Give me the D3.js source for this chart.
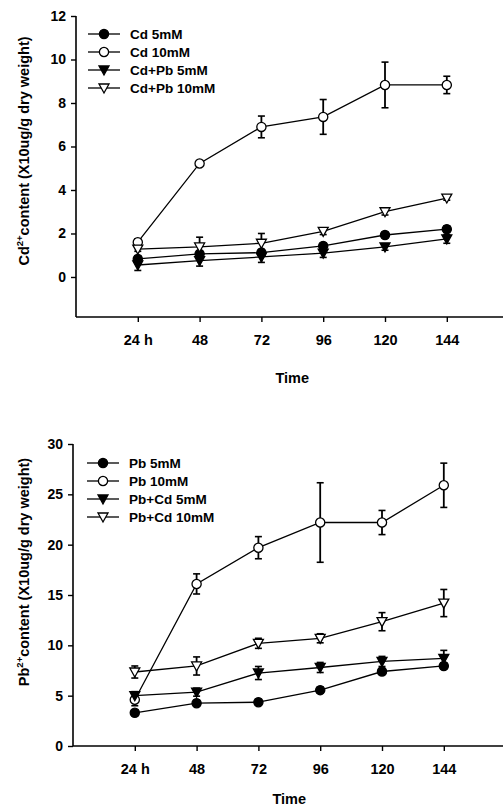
<!DOCTYPE html>
<html>
<head>
    <style>
        body { margin: 0; background: #fff; }
        svg text { font-family: "Liberation Sans", Arial, sans-serif; font-weight: bold; fill: #000; }
    </style>
    <script src="https://d3js.org/d3.v7.min.js"></script>
</head>
<body>
    <svg width="503" height="810"></svg>
    <script>

        // time points (h) and tick labels
        var times = [24, 48, 72, 96, 120, 144];
        var timeLabels = ["24 h", "48", "72", "96", "120", "144"];

        // top panel: Cd content
        var cdNames = ["Cd 5mM", "Cd 10mM", "Cd+Pb 5mM", "Cd+Pb 10mM"];
        var cd5 = [0.83, 1.06, 1.12, 1.43, 1.93, 2.2];
        var cd5Err = [0.15, 0.15, 0.15, 0.12, 0.12, 0.15];
        var cd10 = [1.6, 5.22, 6.9, 7.36, 8.83, 8.83];
        var cd10Err = [0.15, 0.1, 0.5, 0.8, 1.05, 0.4];
        var cdPb5 = [0.55, 0.75, 0.92, 1.1, 1.38, 1.75];
        var cdPb5Err = [0.25, 0.25, 0.25, 0.2, 0.15, 0.2];
        var cdPb10 = [1.28, 1.38, 1.55, 2.1, 3.0, 3.63];
        var cdPb10Err = [0.1, 0.45, 0.45, 0.15, 0.15, 0.1];
        var cdTicks = [0, 2, 4, 6, 8, 10, 12];

        // bottom panel: Pb content
        var pbNames = ["Pb 5mM", "Pb 10mM", "Pb+Cd 5mM", "Pb+Cd 10mM"];
        var pb5 = [3.3, 4.25, 4.35, 5.55, 7.4, 7.95];
        var pb5Err = [0.3, 0.3, 0.3, 0.3, 0.3, 0.3];
        var pb10 = [4.6, 16.1, 19.7, 22.2, 22.2, 25.9];
        var pb10Err = [0.6, 1.0, 1.1, 3.95, 1.2, 2.2];
        var pbCd5 = [5.0, 5.35, 7.25, 7.8, 8.4, 8.7];
        var pbCd5Err = [0.4, 0.4, 0.65, 0.5, 0.5, 0.8];
        var pbCd10 = [7.35, 7.95, 10.2, 10.7, 12.35, 14.2];
        var pbCd10Err = [0.6, 0.9, 0.5, 0.45, 0.9, 1.35];
        var pbTicks = [0, 5, 10, 15, 20, 25, 30];

        var styles = [
            { fill: "#000", shape: "circle" },
            { fill: "#fff", shape: "circle" },
            { fill: "#000", shape: "tri" },
            { fill: "#fff", shape: "tri" }
        ];

        var svg = d3.select("svg");

        function marker(sel, st) {
            if (st.shape == "circle") {
                sel.append("circle").attr("r", 4.6)
                   .attr("fill", st.fill).attr("stroke", "#000").attr("stroke-width", 1.3);
            } else {
                sel.append("path").attr("d", "M-5,-4L5,-4L0,5Z")
                   .attr("fill", st.fill).attr("stroke", "#000").attr("stroke-width", 1.3);
            }
        }

        function panel(p) {
            var x = d3.scaleLinear().domain([0, 168]).range([p.left, p.left + 168 * 61.8 / 24]);
            var y = d3.scaleLinear().domain(p.yDomain).range([p.bottom, p.top]);
            var g = svg.append("g");

            // axes
            g.append("g").attr("transform", "translate(" + p.left + ",0)")
             .call(d3.axisLeft(y).tickValues(p.ticks).tickSize(5).tickPadding(5))
             .call(function(a) {
                 a.select(".domain").attr("stroke-width", 1.6).attr("d", "M0," + p.bottom + "V" + y(p.ticks[p.ticks.length - 1]));
                 a.selectAll(".tick line").attr("stroke-width", 1.4);
                 a.selectAll("text").attr("font-size", 14).style("font-family", "Liberation Sans, Arial").style("font-weight", "bold");
             });
            g.append("g").attr("transform", "translate(0," + p.bottom + ")")
             .call(d3.axisBottom(x).tickValues(times).tickFormat(function(d, i) { return timeLabels[i]; })
                   .tickSize(5).tickPadding(13))
             .call(function(a) {
                 a.select(".domain").attr("stroke-width", 1.6).attr("d", "M" + p.left + ",0H503");
                 a.selectAll(".tick line").attr("stroke-width", 1.4);
                 a.selectAll("text").attr("font-size", 14.5).style("font-family", "Liberation Sans, Arial").style("font-weight", "bold");
             });

            g.append("text").attr("x", x(84)).attr("y", p.timeY)
             .attr("text-anchor", "middle").attr("font-size", 14.5).text("Time");

            var yl = g.append("text")
                .attr("transform", "translate(29," + p.labelY + ") rotate(-90)")
                .attr("text-anchor", "middle").attr("font-size", 14.5);
            yl.append("tspan").text(p.elem);
            yl.append("tspan").attr("font-size", 9.5).attr("dy", -6).text("2+");
            yl.append("tspan").attr("dy", 6).text("content (X10ug/g dry weight)");

            var line = d3.line().x(function(d, i) { return x(times[i]); }).y(function(d) { return y(d); });

            p.series.forEach(function(s, k) {
                g.append("path").datum(s.v).attr("d", line)
                 .attr("fill", "none").attr("stroke", "#000").attr("stroke-width", 1.3);
            });

            p.series.forEach(function(s, k) {
                var eb = g.selectAll(null).data(s.v).enter().append("g");
                eb.append("line")
                  .attr("x1", function(d, i) { return x(times[i]); })
                  .attr("x2", function(d, i) { return x(times[i]); })
                  .attr("y1", function(d, i) { return y(d - s.e[i]); })
                  .attr("y2", function(d, i) { return y(d + s.e[i]); })
                  .attr("stroke", "#000").attr("stroke-width", 1.8);
                [-1, 1].forEach(function(sg) {
                    eb.append("line")
                      .attr("x1", function(d, i) { return x(times[i]) - 3.5; })
                      .attr("x2", function(d, i) { return x(times[i]) + 3.5; })
                      .attr("y1", function(d, i) { return y(d + sg * s.e[i]); })
                      .attr("y2", function(d, i) { return y(d + sg * s.e[i]); })
                      .attr("stroke", "#000").attr("stroke-width", 1.6);
                });
            });

            p.series.forEach(function(s, k) {
                g.selectAll(null).data(s.v).enter().append("g")
                 .attr("transform", function(d, i) { return "translate(" + x(times[i]) + "," + y(d) + ")"; })
                 .each(function() { marker(d3.select(this), styles[k]); });
            });

            // legend
            var lg = g.selectAll(null).data(p.names).enter().append("g")
                .attr("transform", function(d, i) { return "translate(" + p.legX + "," + (p.legY + i * 18) + ")"; });
            lg.append("line").attr("x1", 0).attr("x2", 32).attr("stroke", "#000").attr("stroke-width", 1.3);
            lg.append("g").attr("transform", "translate(16,0)")
              .each(function(d, i) { marker(d3.select(this), styles[i]); });
            lg.append("text").attr("x", 42).attr("y", 5).attr("font-size", 13.5).text(function(d) { return d; });
        }

        panel({
            left: 76, top: 16, bottom: 317, yDomain: [-1.84, 12], ticks: cdTicks,
            elem: "Cd", labelY: 151, legX: 88, legY: 34, names: cdNames, timeY: 383,
            series: [{ v: cd5, e: cd5Err }, { v: cd10, e: cd10Err }, { v: cdPb5, e: cdPb5Err }, { v: cdPb10, e: cdPb10Err }]
        });

        panel({
            left: 73, top: 444, bottom: 746, yDomain: [0, 30], ticks: pbTicks,
            elem: "Pb", labelY: 572, legX: 87, legY: 463, names: pbNames, timeY: 804,
            series: [{ v: pb5, e: pb5Err }, { v: pb10, e: pb10Err }, { v: pbCd5, e: pbCd5Err }, { v: pbCd10, e: pbCd10Err }]
        });

    </script>
</body>
</html>
